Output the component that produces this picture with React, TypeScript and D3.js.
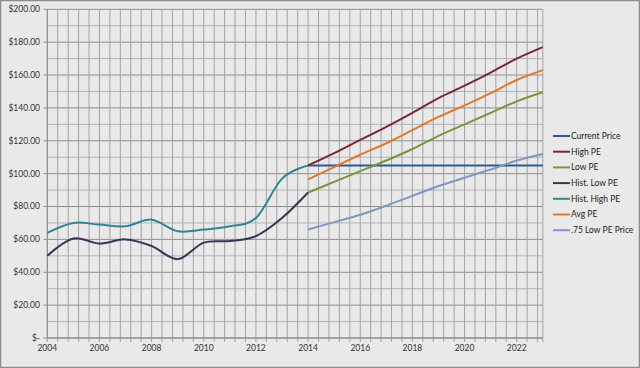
import React from 'react';
import * as d3 from 'd3';

// historical years and projection years
const histYears = [2004, 2005, 2006, 2007, 2008, 2009, 2010, 2011, 2012, 2013, 2014];
const projYears = [2014, 2015, 2016, 2017, 2018, 2019, 2020, 2021, 2022, 2023];

const histLowPE = [50, 60.5, 57.5, 60, 56, 48, 58, 59, 62, 73, 88.5];
const histHighPE = [64, 70, 69, 68, 72, 65, 66, 68, 73, 97, 105];

const currentPrice = [105, 105, 105, 105, 105, 105, 105, 105, 105, 105];
const highPE = [105, 112.5, 120.5, 128.5, 137, 146, 153.5, 161.5, 170, 177];
const lowPE = [88.5, 95, 101.5, 108, 115, 123, 130, 137, 144, 149.5];
const avgPE = [96.5, 104, 111.5, 118.5, 126.5, 134.5, 141.5, 149, 157, 163];
const lowPE75 = [66, 70.5, 75, 80.5, 86.5, 92.5, 97.5, 102.5, 108, 112];

const yTicks = [0, 20, 40, 60, 80, 100, 120, 140, 160, 180, 200];
const xTickLabels = [2004, 2006, 2008, 2010, 2012, 2014, 2016, 2018, 2020, 2022];

const W = 640;
const H = 368;
const FONT = 'Lato, "Open Sans", sans-serif';

type Series = { name: string; color: string; years: number[]; values: number[] };

const series: Series[] = [
  { name: 'Current Price', color: '#2f5b8a', years: projYears, values: currentPrice },
  { name: 'High PE', color: '#7a2734', years: projYears, values: highPE },
  { name: 'Low PE', color: '#78963c', years: projYears, values: lowPE },
  { name: 'Hist. Low PE', color: '#3e3152', years: histYears, values: histLowPE },
  { name: 'Hist. High PE', color: '#2f8596', years: histYears, values: histHighPE },
  { name: 'Avg PE', color: '#e0782c', years: projYears, values: avgPE },
  { name: '.75 Low PE Price', color: '#7d98c2', years: projYears, values: lowPE75 },
];

export default function App() {
  const x = d3.scaleLinear().domain([2004, 2023]).range([47.3, 542.8]);
  const y = d3.scaleLinear().domain([0, 200]).range([338, 9.3]);

  // vertical grid every 0.4 year, horizontal every $10
  const vGrid = d3.range(0, 48).map(i => 2004 + i * 0.4).concat([2023]);
  const hGrid = d3.range(0, 201, 10);

  const line = d3.line<[number, number]>()
    .x(d => x(d[0]))
    .y(d => y(d[1]))
    .curve(d3.curveCardinal.tension(0));

  const fmt = (v: number) => (v === 0 ? '$-' : '$' + d3.format(',.2f')(v));

  return (
    <div style={{ position: 'fixed', left: 0, top: 0 }}>
      <svg width={W} height={H} style={{ display: 'block' }}>
        <rect x={0} y={0} width={W} height={H} fill="#e9e9e9" />
        <rect x={0.5} y={0.5} width={W - 1} height={H - 1} fill="none" stroke="#8c8c8c" strokeWidth={1.5} />

        {/* grid */}
        {hGrid.map(v => (
          <line key={'h' + v} x1={x(2004)} x2={x(2023)} y1={y(v)} y2={y(v)}
            stroke={v % 20 === 0 ? '#8f8f8f' : '#b4b4b4'} strokeWidth={1} />
        ))}
        {vGrid.map((v, i) => (
          <line key={'v' + i} x1={x(v)} x2={x(v)} y1={y(200)} y2={y(0) + 4}
            stroke="#a2a2a2" strokeWidth={1} />
        ))}
        {yTicks.map(v => (
          <line key={'yt' + v} x1={x(2004) - 4} x2={x(2004)} y1={y(v)} y2={y(v)} stroke="#8f8f8f" />
        ))}
        <line x1={x(2004)} x2={x(2004)} y1={y(200)} y2={y(0)} stroke="#8a8a8a" />
        <line x1={x(2004)} x2={x(2023)} y1={y(0)} y2={y(0)} stroke="#8a8a8a" />

        {/* axis labels */}
        {yTicks.map(v => (
          <text key={'yl' + v} x={40} y={y(v)} dy="0.35em" textAnchor="end"
            fontFamily={FONT} fontSize={8.5} fill="#333">{fmt(v)}</text>
        ))}
        {xTickLabels.map(v => (
          <text key={'xl' + v} x={x(v)} y={351} textAnchor="middle"
            fontFamily={FONT} fontSize={8.5} fill="#333">{v}</text>
        ))}

        {/* series */}
        {series.map(s => (
          <path key={s.name}
            d={line(s.years.map((yr, i) => [yr, s.values[i]] as [number, number])) || ''}
            fill="none" stroke={s.color} strokeWidth={2} />
        ))}

        {/* legend */}
        {series.map((s, i) => (
          <g key={'lg' + s.name} transform={`translate(553, ${136 + i * 15.7})`}>
            <line x1={0} x2={17} y1={0} y2={0} stroke={s.color} strokeWidth={2} />
            <text x={18} y={0} dy="0.35em" fontFamily={FONT} fontSize={8.5} fill="#222">{s.name}</text>
          </g>
        ))}
      </svg>
    </div>
  );
}
